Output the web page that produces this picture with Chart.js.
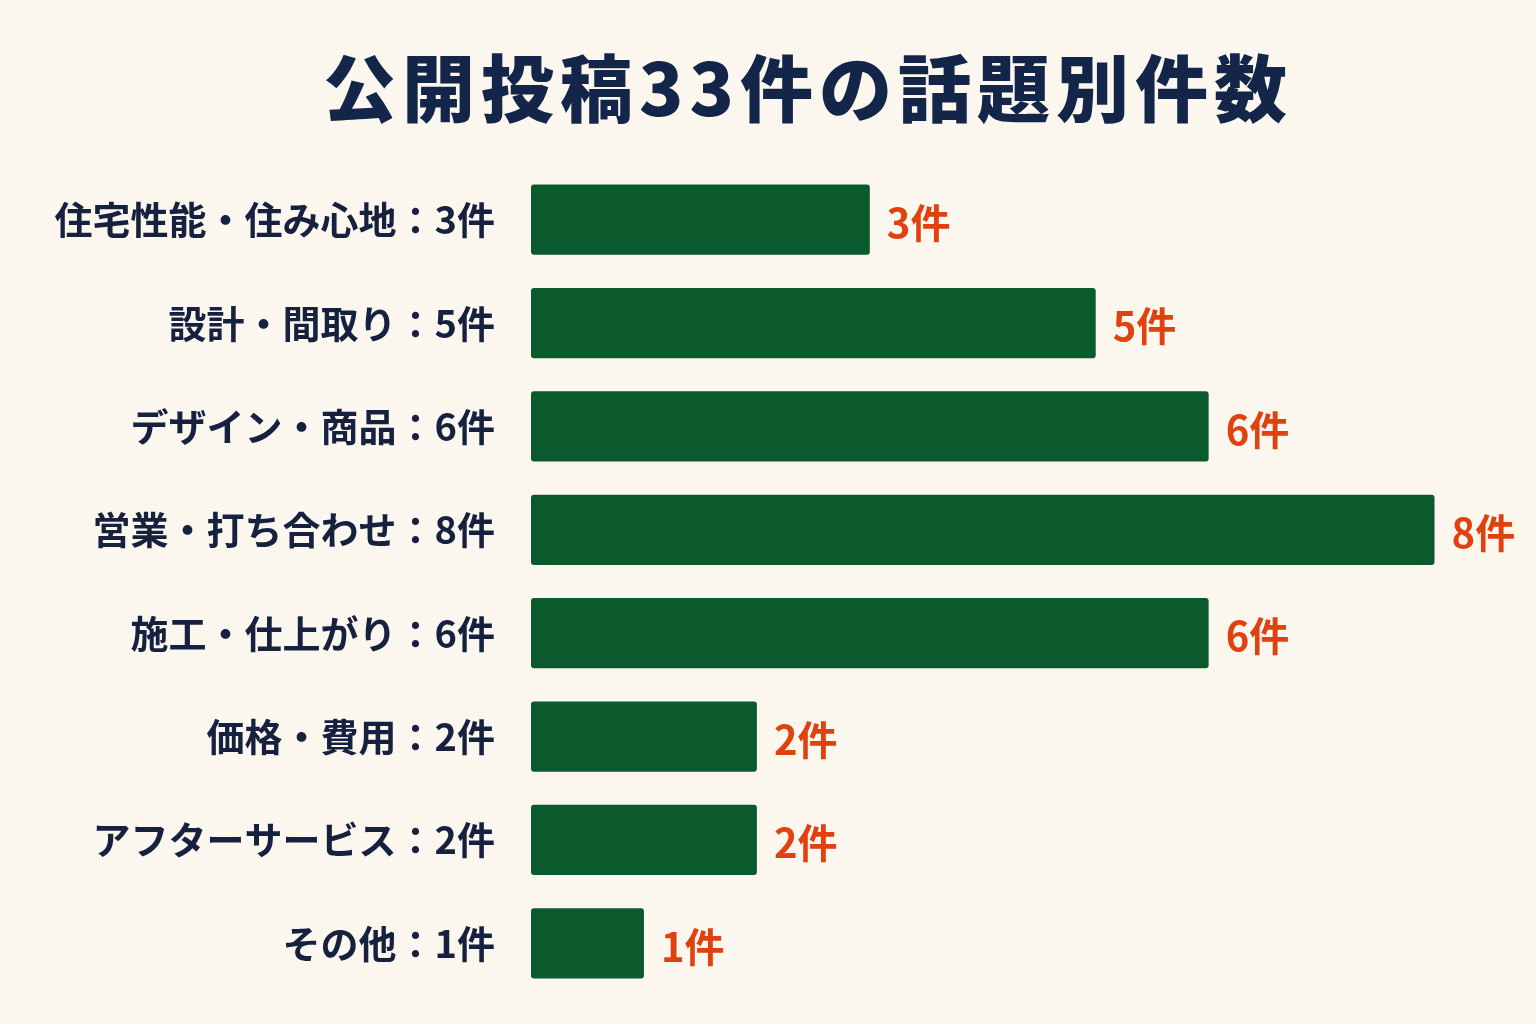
<!DOCTYPE html>
<html><head><meta charset="utf-8">
<script src="https://cdn.jsdelivr.net/npm/chart.js@4/dist/chart.umd.min.js"></script>
<style>
html,body{margin:0;padding:0;background:#fcf7ee;}
#wrap{width:1536px;height:1024px;position:relative;}
</style></head>
<body><div id="wrap"><canvas id="c" width="1536" height="1024"></canvas></div>
<script>
const TITLE = '公開投稿33件の話題別件数';
const categories = ['住宅性能・住み心地','設計・間取り','デザイン・商品','営業・打ち合わせ','施工・仕上がり','価格・費用','アフターサービス','その他'];
const counts = [3, 5, 6, 8, 6, 2, 2, 1];
const unit = '件';
const tickLabels = categories.map((c, i) => c + '：' + counts[i] + unit);
const valueLabels = counts.map(v => v + unit);

const FONT = '"Noto Sans CJK JP","Noto Sans",sans-serif';

const titlePlugin = {
  id: 'spacedTitle',
  afterDraw(chart) {
    const ctx = chart.ctx;
    ctx.save();
    ctx.font = '900 73px ' + FONT;
    ctx.fillStyle = '#14254a';
    ctx.textAlign = 'center';
    ctx.textBaseline = 'middle';
    try { ctx.letterSpacing = '6px'; } catch (e) {}
    ctx.fillText(TITLE, 808, 88);
    ctx.restore();
  }
};

const valuePlugin = {
  id: 'valueLabels',
  afterDatasetsDraw(chart) {
    const ctx = chart.ctx;
    const meta = chart.getDatasetMeta(0);
    ctx.save();
    ctx.font = 'bold 40px ' + FONT;
    ctx.fillStyle = '#e0420f';
    ctx.textAlign = 'left';
    ctx.textBaseline = 'middle';
    meta.data.forEach((bar, i) => {
      ctx.fillText(valueLabels[i], bar.x + 17, bar.y + 3);
    });
    ctx.restore();
  }
};

new Chart(document.getElementById('c'), {
  type: 'bar',
  data: {
    labels: tickLabels,
    datasets: [{
      data: counts,
      backgroundColor: '#0b5a2e',
      borderRadius: 3,
      borderSkipped: false,
      barPercentage: 0.68,
      categoryPercentage: 1.0
    }]
  },
  options: {
    indexAxis: 'y',
    responsive: false,
    animation: false,
    layout: { padding: { top: 168, bottom: 29, left: 0, right: 45 } },
    plugins: { legend: { display: false }, tooltip: { enabled: false }, title: { display: false } },
    scales: {
      x: {
        min: 0, max: 8.5,
        display: false,
        grid: { display: false }
      },
      y: {
        grid: { display: false, drawTicks: true, tickLength: 36 },
        border: { display: false },
        afterFit(scale) { scale.width = 531; },
        ticks: {
          padding: 0,
          color: '#16213f',
          font: { family: FONT, size: 38, weight: 'bold' }
        }
      }
    }
  },
  plugins: [titlePlugin, valuePlugin]
});
</script></body></html>
